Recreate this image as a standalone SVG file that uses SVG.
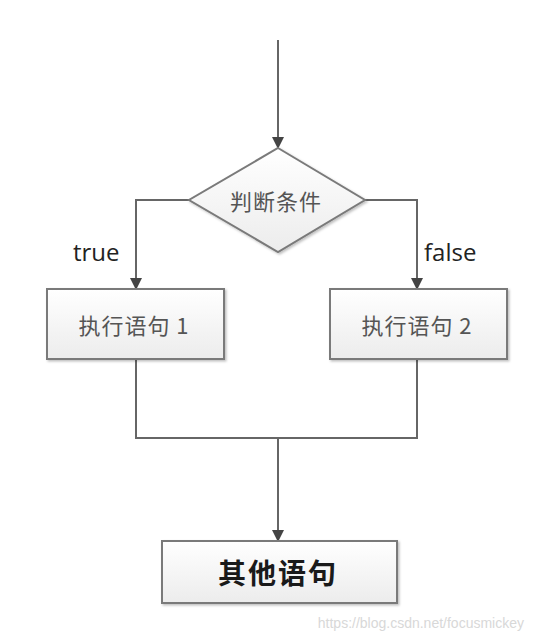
<svg xmlns="http://www.w3.org/2000/svg" width="534" height="642" viewBox="0 0 534 642">
<style>
.node{fill:url(#g);stroke:#7a7a7a;stroke-width:2}
.edge{fill:none;stroke:#666;stroke-width:2}
.t{font-family:"Noto Sans CJK SC","Liberation Sans",sans-serif;font-size:22px;letter-spacing:1px;fill:#555;text-anchor:middle;dominant-baseline:central}
.lbl{font-family:"Open Sans","Liberation Sans",sans-serif;font-size:24px;fill:#222}
</style>
<defs>
<linearGradient id="g" x1="0" y1="0" x2="0" y2="1">
<stop offset="0" stop-color="#ffffff"/>
<stop offset="1" stop-color="#ececec"/>
</linearGradient>
<filter id="sh" x="-10%" y="-10%" width="130%" height="130%">
<feDropShadow dx="1.5" dy="1.5" stdDeviation="1" flood-color="#000" flood-opacity="0.25"/>
</filter>
<marker id="arr" markerWidth="12" markerHeight="12" refX="10" refY="6" orient="auto" markerUnits="userSpaceOnUse">
<path d="M0,0 L12,6 L0,12 z" fill="#444"/>
</marker>
</defs>
<g id="connectors">
<line class="edge" x1="278" y1="40" x2="278" y2="147" marker-end="url(#arr)"/>
<polyline class="edge" points="189,200 136,200 136,288" marker-end="url(#arr)"/>
<polyline class="edge" points="365,200 417,200 417,288" marker-end="url(#arr)"/>
<polyline class="edge" points="136,360 136,438 417,438 417,360"/>
<line class="edge" x1="278" y1="438" x2="278" y2="540" marker-end="url(#arr)"/>
</g>
<g id="decision">
<polygon class="node" filter="url(#sh)" points="278,148 365,200 278,252 189,200"/>
<text class="t" x="276" y="200">判断条件</text>
</g>
<g id="stmt1">
<rect class="node" filter="url(#sh)" x="47" y="289" width="177" height="70"/>
<text class="t" x="134" y="324">执行语句 1</text>
</g>
<g id="stmt2">
<rect class="node" filter="url(#sh)" x="330" y="289" width="177" height="70"/>
<text class="t" x="417" y="324">执行语句 2</text>
</g>
<g id="other">
<rect class="node" filter="url(#sh)" x="162" y="541" width="235" height="62"/>
<text class="t" x="278" y="572" style="font-size:28px;letter-spacing:2px;font-weight:bold;fill:#1a1a1a">其他语句</text>
</g>
<g id="labels">
<text class="lbl" x="73" y="261">true</text>
<text class="lbl" x="424" y="261">false</text>
</g>
<text x="524" y="628" text-anchor="end" style="font-family:'Liberation Sans',sans-serif;font-size:14px;fill:#d8d8d8">https://blog.csdn.net/focusmickey</text>
</svg>
